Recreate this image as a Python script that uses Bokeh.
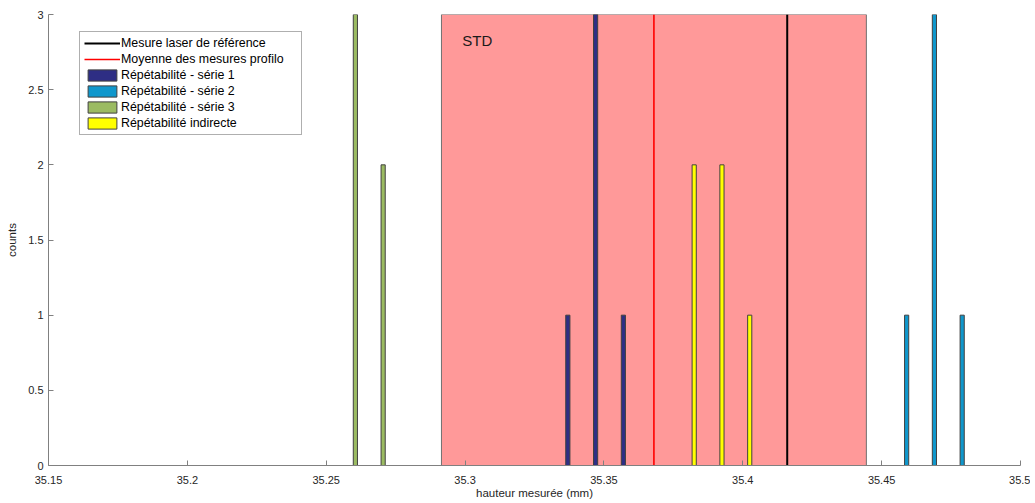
from bokeh.plotting import figure
from bokeh.models import FixedTicker, Legend, LegendItem, Range1d
from bokeh.core.properties import value
from bokeh.embed import file_html
from bokeh.resources import INLINE

# ---- data ----
serie1_x = [35.337, 35.347, 35.357]
serie1_counts = [1, 3, 1]
serie2_x = [35.459, 35.469, 35.479]
serie2_counts = [1, 3, 1]
serie3_x = [35.2605, 35.2705]
serie3_counts = [3, 2]
indirect_x = [35.3825, 35.3925, 35.4025]
indirect_counts = [2, 2, 1]
ref_value = 35.416
mean_value = 35.368
std_value = 0.0765
x_ticks = [35.15, 35.2, 35.25, 35.3, 35.35, 35.4, 35.45, 35.5]
x_tick_labels = ["35.15", "35.2", "35.25", "35.3", "35.35", "35.4", "35.45", "35.5"]
y_ticks = [0, 0.5, 1, 1.5, 2, 2.5, 3]
y_tick_labels = ["0", "0.5", "1", "1.5", "2", "2.5", "3"]

FONT = "Liberation Sans"
AX_COL = "#808080"
TXT_COL = "#262626"

p = figure(width=1030, height=502, output_backend="svg", toolbar_location=None,
           x_range=Range1d(35.15, 35.5), y_range=Range1d(0, 3),
           min_border_left=48, min_border_right=10, min_border_top=14, min_border_bottom=37)
p.background_fill_color = "white"
p.border_fill_color = "white"
p.outline_line_color = None
p.xgrid.visible = False
p.ygrid.visible = False

# STD band
p.quad(left=[mean_value - std_value], right=[mean_value + std_value], bottom=[0], top=[3],
       fill_color="#ff9999", line_color="#707070", line_width=1)
p.text(x=[mean_value - std_value + 0.0075], y=[2.83], text=["STD"],
       text_font=value(FONT), text_font_size="15px", text_color="#1a1a1a",
       text_baseline="middle", text_align="left")

W = 0.0015
lc = "#404040"
r1 = p.vbar(x=serie1_x, top=serie1_counts, bottom=0, width=W, fill_color="#2e2e84", line_color=lc)
r2 = p.vbar(x=serie2_x, top=serie2_counts, bottom=0, width=W, fill_color="#0f97cc", line_color=lc)
r3 = p.vbar(x=serie3_x, top=serie3_counts, bottom=0, width=W, fill_color="#9bbb62", line_color=lc)
r4 = p.vbar(x=indirect_x, top=indirect_counts, bottom=0, width=W, fill_color="#ffff00", line_color=lc)

lref = p.line(x=[ref_value, ref_value], y=[0, 3], line_color="black", line_width=2)
lmean = p.line(x=[mean_value, mean_value], y=[0, 3], line_color="#ff0000", line_width=1.6)

legend = Legend(items=[
    LegendItem(label="Mesure laser de référence", renderers=[lref]),
    LegendItem(label="Moyenne des mesures profilo", renderers=[lmean]),
    LegendItem(label="Répétabilité - série 1", renderers=[r1]),
    LegendItem(label="Répétabilité - série 2", renderers=[r2]),
    LegendItem(label="Répétabilité - série 3", renderers=[r3]),
    LegendItem(label="Répétabilité indirecte", renderers=[r4]),
], location=(31, 330))
legend.label_text_font = FONT
legend.label_text_font_size = "12.4px"
legend.label_text_color = "#000000"
legend.label_height = 14
legend.label_width = 176
legend.label_standoff = 1
legend.glyph_height = 14
legend.glyph_width = 36
legend.spacing = 2
legend.padding = 4
legend.margin = 0
legend.border_line_color = "#606060"
legend.border_line_width = 1
legend.background_fill_alpha = 1
p.add_layout(legend, "center")

for ax in (p.xaxis[0], p.yaxis[0]):
    ax.axis_line_color = AX_COL
    ax.major_tick_line_color = AX_COL
    ax.minor_tick_line_color = None
    ax.major_tick_in = 5
    ax.major_tick_out = 0
    ax.major_label_text_font = FONT
    ax.major_label_text_font_size = "11px"
    ax.major_label_text_color = TXT_COL
    ax.axis_label_text_font = FONT
    ax.axis_label_text_font_size = "11.5px"
    ax.axis_label_text_font_style = "normal"
    ax.axis_label_text_color = TXT_COL

p.xaxis.ticker = FixedTicker(ticks=x_ticks)
p.xaxis.major_label_overrides = {t: l for t, l in zip(x_ticks, x_tick_labels)}
p.yaxis.ticker = FixedTicker(ticks=y_ticks)
p.yaxis.major_label_overrides = {t: l for t, l in zip(y_ticks, y_tick_labels)}
p.xaxis.axis_label = "hauteur mesurée (mm)"
p.yaxis.axis_label = "counts"
p.xaxis.major_label_standoff = 10
p.xaxis.axis_label_standoff = 0
p.yaxis.major_label_standoff = 5
p.yaxis.axis_label_standoff = 7

open("out.html", "w").write(file_html(p, INLINE))
